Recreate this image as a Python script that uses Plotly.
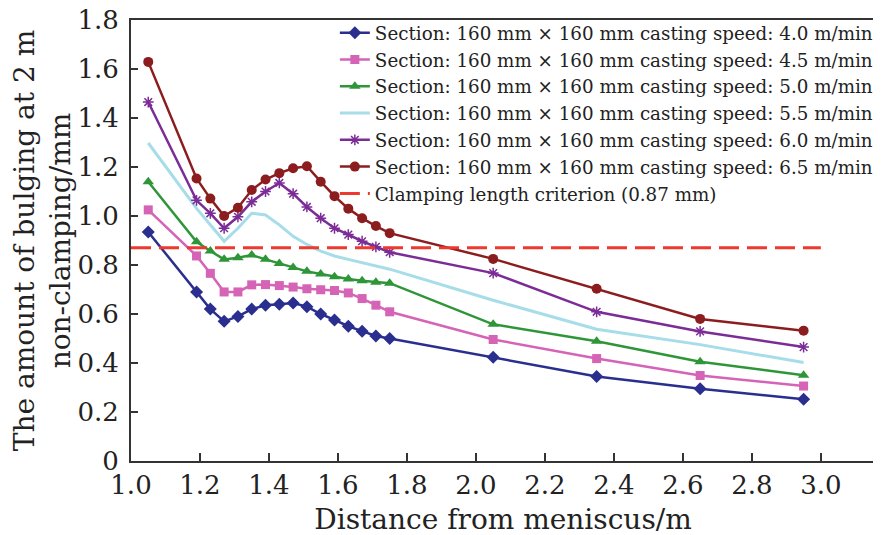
import plotly.graph_objects as go

# distance from meniscus (m)
dist = [1.05, 1.19, 1.23, 1.27, 1.31, 1.35, 1.39, 1.43, 1.47, 1.51,
        1.55, 1.59, 1.63, 1.67, 1.71, 1.75, 2.05, 2.35, 2.65, 2.95]

# bulging amount (mm) for each casting speed
v40 = [0.935, 0.69, 0.62, 0.57, 0.59, 0.62, 0.636, 0.64, 0.645, 0.63,
       0.60, 0.576, 0.55, 0.53, 0.51, 0.50, 0.423, 0.345, 0.295, 0.252]
v45 = [1.025, 0.837, 0.766, 0.69, 0.69, 0.719, 0.72, 0.716, 0.71, 0.703,
       0.699, 0.696, 0.686, 0.663, 0.636, 0.609, 0.496, 0.418, 0.349, 0.306]
v50 = [1.14, 0.895, 0.857, 0.823, 0.83, 0.841, 0.823, 0.806, 0.79, 0.774,
       0.763, 0.752, 0.743, 0.736, 0.73, 0.726, 0.558, 0.489, 0.405, 0.35]
v55 = [1.298, 1.031, 0.964, 0.897, 0.95, 1.011, 1.004, 0.964, 0.917, 0.884,
       0.857, 0.837, 0.823, 0.81, 0.797, 0.783, 0.656, 0.538, 0.475, 0.402]
v60 = [1.465, 1.064, 1.011, 0.95, 0.997, 1.058, 1.10, 1.135, 1.091, 1.037,
       0.991, 0.95, 0.924, 0.897, 0.874, 0.852, 0.767, 0.609, 0.529, 0.465]
v65 = [1.629, 1.153, 1.071, 1.0, 1.034, 1.106, 1.149, 1.175, 1.195, 1.203,
       1.14, 1.081, 1.03, 0.991, 0.959, 0.93, 0.825, 0.703, 0.58, 0.532]

crit_x = [1.0, 3.0]
crit_y = [0.87, 0.87]

speeds = ["4.0", "4.5", "5.0", "5.5", "6.0", "6.5"]
xticks = [1.0, 1.2, 1.4, 1.6, 1.8, 2.0, 2.2, 2.4, 2.6, 2.8, 3.0]
yticks = [0, 0.2, 0.4, 0.6, 0.8, 1.0, 1.2, 1.4, 1.6, 1.8]
ytext = ["0", "0.2", "0.4", "0.6", "0.8", "1.0", "1.2", "1.4", "1.6", "1.8"]

FONT = "DejaVu Serif, Liberation Serif, serif"

styles = [
    dict(color="#2a2e8e", symbol="diamond", size=10),
    dict(color="#d563b6", symbol="square", size=9),
    dict(color="#2e9638", symbol="triangle-up", size=10),
    dict(color="#a6dde8", symbol=None, size=0),
    dict(color="#7b2c96", symbol="asterisk-open", size=9),
    dict(color="#8c1d1f", symbol="circle", size=10),
]

fig = go.Figure()

for sp, ys, st in zip(speeds, [v40, v45, v50, v55, v60, v65], styles):
    name = "Section: 160 mm \u00d7 160 mm casting speed: %s m/min" % sp
    if st["symbol"] is None:
        fig.add_trace(go.Scatter(x=dist, y=ys, name=name, mode="lines",
                                 line=dict(color=st["color"], width=3)))
    else:
        mk = dict(symbol=st["symbol"], size=st["size"], color=st["color"])
        if st["symbol"] == "asterisk-open":
            mk = dict(symbol="asterisk-open", size=st["size"],
                      line=dict(color="#d2b0e6", width=1.5))
        fig.add_trace(go.Scatter(x=dist, y=ys, name=name, mode="lines+markers",
                                 line=dict(color=st["color"], width=2.5),
                                 marker=mk))

fig.add_trace(go.Scatter(x=crit_x, y=crit_y, mode="lines",
                         name="Clamping length criterion (0.87 mm)",
                         line=dict(color="#ec3a2e", width=3, dash="20px,8px")))

# page body adds an 8px offset, margins account for it
fig.update_layout(
    width=881, height=535,
    margin=dict(l=123, r=14, t=6, b=82),
    paper_bgcolor="white", plot_bgcolor="white",
    font=dict(family=FONT, color="#222222"),
    legend=dict(x=0.274, y=1.013, xanchor="left", yanchor="top",
                font=dict(family=FONT, size=18.3, color="#222222"),
                bgcolor="rgba(255,255,255,0)", borderwidth=0,
                tracegroupgap=0),
    showlegend=True,
)

fig.update_xaxes(range=[1.0, 3.157], tickvals=xticks, tickformat=".1f",
                 ticks="inside", ticklen=8, tickwidth=1.5, tickcolor="#333",
                 showline=True, linewidth=2, linecolor="#333", mirror=True,
                 showgrid=False, zeroline=False, ticklabeloverflow="allow",
                 automargin=False,
                 tickfont=dict(size=26, family=FONT),
                 title=dict(text="Distance from meniscus/m", font=dict(size=28, family=FONT),
                            standoff=10))
fig.update_yaxes(range=[0, 1.8], tickvals=yticks, ticktext=ytext,
                 ticks="inside", ticklen=7, tickwidth=1.5, tickcolor="#333",
                 showline=True, linewidth=2, linecolor="#333", mirror=True,
                 showgrid=False, zeroline=False, ticklabeloverflow="allow",
                 ticklabelstandoff=5, automargin=False,
                 tickfont=dict(size=26, family=FONT),
                 title=dict(text="The amount of bulging at 2 m<br>non-clamping/mm",
                            font=dict(size=28, family=FONT), standoff=0))

fig.write_html("out.html")
